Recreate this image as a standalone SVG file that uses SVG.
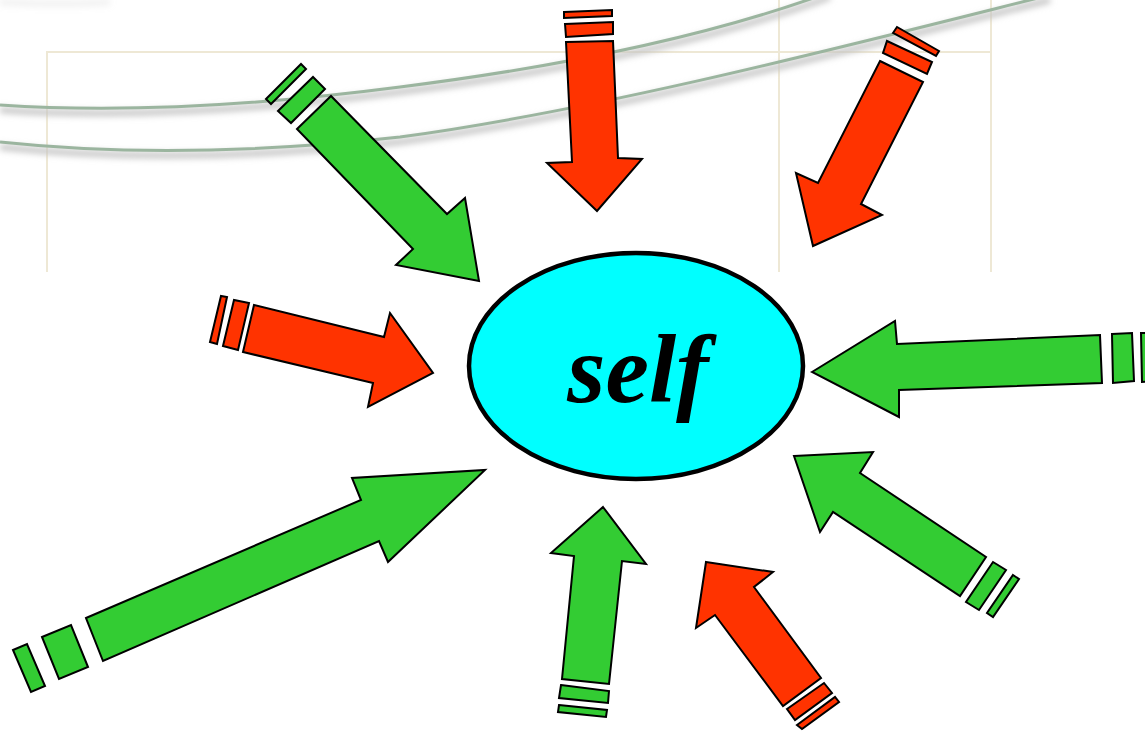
<svg xmlns="http://www.w3.org/2000/svg" width="1145" height="731" viewBox="0 0 1145 731">
<defs>
<style>
.bg{fill:none;stroke:#eee8d5;stroke-width:2}
.arc{fill:none;stroke:#9bb59f;stroke-width:3}
.sh{fill:none;stroke:#c4c4c4;stroke-width:6}
.g{fill:#33cc33;stroke:#000;stroke-width:2;stroke-linejoin:miter}
.r{fill:#ff3300;stroke:#000;stroke-width:2;stroke-linejoin:miter}
</style>
<filter id="blur" x="-5%" y="-50%" width="110%" height="200%"><feGaussianBlur stdDeviation="3"/></filter>
</defs>
<rect width="1145" height="731" fill="#fff"/>
<g id="background">
<path class="bg" d="M47,272 V52 H991 M779,0 V272 M991,0 V272"/>
<g filter="url(#blur)">
<path class="sh" d="M0,110 C150,120 300,105 400,92 C550,73 700,45 830,-3"/>
<path class="sh" d="M0,147 C150,163 300,153 400,142 C600,115 850,50 1050,0"/>
<path class="sh" d="M0,2 C40,4 80,4 110,2" opacity="0.25"/>
</g>
<path class="arc" d="M0,105 C150,115 300,100 400,87 C550,68 700,40 830,-8"/>
<path class="arc" d="M0,142 C150,158 300,148 400,137 C600,110 850,45 1050,-5"/>
</g>
<g id="connectors">
<g id="arrow-top-left">
<polygon class="g" points="266,99 301,64 306,69 271,104"/>
<polygon class="g" points="278,111 313,77 325,89 291,123"/>
<polygon class="g" points="297,129 331,96 447,214 465,198 479,281 396,265 413,249"/>
</g>
<g id="arrow-top">
<polygon class="r" points="564,12 612,10 612,16 564,18"/>
<polygon class="r" points="565,24 613,22 613,34 566,37"/>
<polygon class="r" points="566,42 613,41 618,158 642,159 597,211 547,163 572,162"/>
</g>
<g id="arrow-top-right">
<polygon class="r" points="893,33 897,27 939,51 936,56"/>
<polygon class="r" points="887,41 932,62 927,74 883,53"/>
<polygon class="r" points="880,61 923,82 861,204 882,215 813,246 796,173 818,183"/>
</g>
<g id="arrow-left">
<polygon class="r" points="210,342 221,296 227,297 217,344"/>
<polygon class="r" points="223,346 234,300 249,303 238,350"/>
<polygon class="r" points="254,305 384,337 390,313 433,373 368,407 373,383 243,352"/>
</g>
<g id="arrow-right">
<polygon class="g" points="1112,334 1132,333 1134,381 1113,383"/>
<polygon class="g" points="1141,333 1155,333 1155,381 1142,382"/>
<polygon class="g" points="812,372 895,321 897,344 1100,335 1102,383 899,390 899,417"/>
</g>
<g id="arrow-bottom-left">
<polygon class="g" points="13,650 27,644 45,686 31,692"/>
<polygon class="g" points="42,637 71,625 88,667 59,679"/>
<polygon class="g" points="86,618 361,500 352,478 485,470 388,562 379,541 103,661"/>
</g>
<g id="arrow-bottom">
<polygon class="g" points="561,685 609,691 608,703 559,698"/>
<polygon class="g" points="559,705 607,710 606,717 558,712"/>
<polygon class="g" points="603,507 646,564 622,561 609,684 562,679 574,556 551,553"/>
</g>
<g id="arrow-bottom-right">
<polygon class="r" points="787,709 824,683 832,693 795,720"/>
<polygon class="r" points="797,725 835,697 839,702 802,729"/>
<polygon class="r" points="706,562 773,572 754,587 821,678 783,706 715,615 696,628"/>
</g>
<g id="arrow-right-lower">
<polygon class="g" points="993,562 1006,570 979,610 966,602"/>
<polygon class="g" points="1013,575 1019,579 993,617 987,613"/>
<polygon class="g" points="794,456 873,452 860,473 986,557 960,596 833,512 820,532"/>
</g>
</g>
<g id="self">
<ellipse cx="636" cy="366" rx="167" ry="113" fill="#00ffff" stroke="#000" stroke-width="4.5"/>
<text x="638" y="402" text-anchor="middle" font-family="Times New Roman, Liberation Serif, serif" font-weight="bold" font-style="italic" font-size="98" fill="#000">self</text>
</g>
</svg>
